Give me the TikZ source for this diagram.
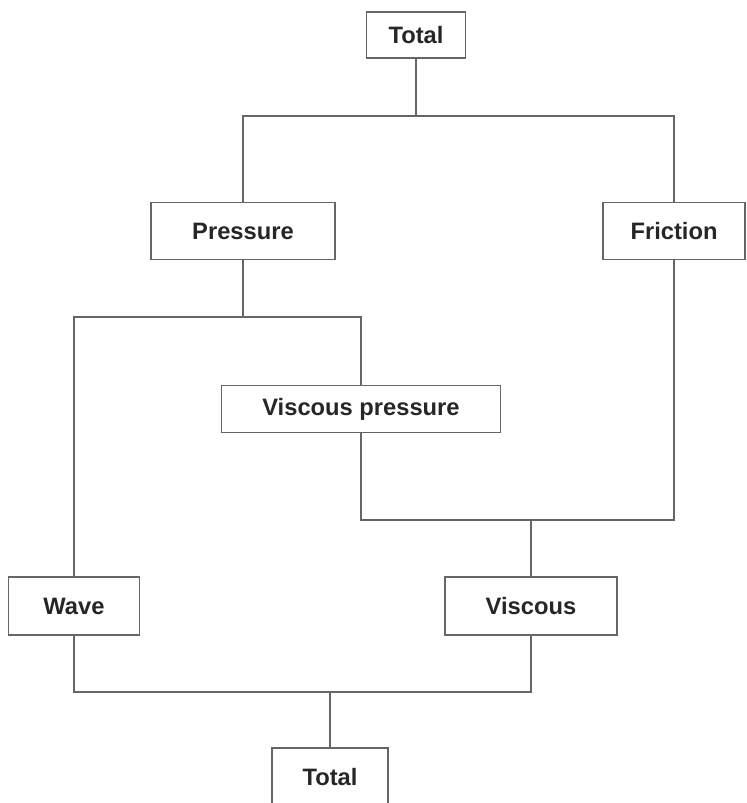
\documentclass[tikz,border=0pt]{standalone}
\usepackage{fontspec}
\setmainfont{Liberation Sans}
\usetikzlibrary{positioning}

\begin{document}
\begin{tikzpicture}[
    x=0.02cm, y=-0.02cm,
    box/.style={rectangle, draw=black!60, line width=0.8pt, fill=white,
                inner sep=0pt, minimum height=1.14cm,
                font=\fontsize{13.5}{16}\selectfont\bfseries, text=black!85},
    link/.style={draw=black!60, line width=0.8pt}
]
  \useasboundingbox (0,0) rectangle (746,803);

  \node[box, minimum width=1.98cm, minimum height=0.92cm] (total)    at (416,35)  {Total};
  \node[box, minimum width=3.68cm] (pressure) at (243,231) {Pressure};
  \node[box, minimum width=2.84cm] (friction) at (674,231) {Friction};
  \node[box, minimum width=5.58cm, minimum height=0.94cm] (vispres)  at (361,409) {Viscous pressure};
  \node[box, minimum width=2.62cm, minimum height=1.16cm] (wave)     at (74,606)  {Wave};
  \node[box, minimum width=3.44cm, minimum height=1.16cm] (viscous)  at (531,606) {Viscous};
  \node[box, minimum width=2.32cm, minimum height=1.16cm] (sum)      at (330,777) {Total};

  % junctions
  \coordinate (jtop) at (416,116);
  \coordinate (jpre) at (243,317);
  \coordinate (jvp)  at (361,317);
  \coordinate (jvis) at (531,520);
  \coordinate (jbot) at (330,692);

  \draw[link] (total) -- (jtop);
  \draw[link] (pressure) |- (jtop) -| (friction);
  \draw[link] (pressure) -- (jpre);
  \draw[link] (wave) |- (jvp) -- (vispres);
  \draw[link] (vispres) |- (jvis) -| (friction);
  \draw[link] (jvis) -- (viscous);
  \draw[link] (wave) |- (jbot) -| (viscous);
  \draw[link] (jbot) -- (sum);
\end{tikzpicture}
\end{document}
